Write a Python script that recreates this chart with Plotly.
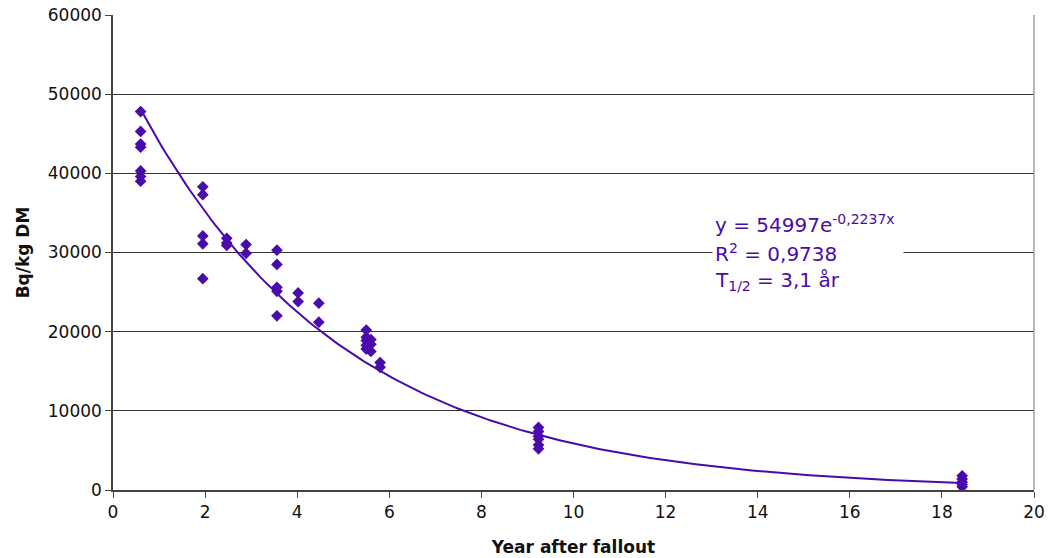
import numpy as np
import plotly.graph_objects as go

# Measured data (years after fallout, Bq/kg DM)
years = ([0.6] * 7 + [1.95] * 5 + [2.47] * 3 + [2.89] * 2 + [3.56] * 5 +
         [4.02] * 2 + [4.47] * 2 + [5.5] * 5 + [5.6] * 3 + [5.8] * 2 +
         [9.24] * 6 + [18.44] * 5)
values = [47800, 45300, 43700, 43300, 40300, 39600, 39000,
          38300, 37300, 32100, 31100, 26700,
          31800, 31200, 30900,
          31000, 29900,
          30300, 28500, 25600, 25100, 22000,
          24900, 23800,
          23600, 21200,
          20200, 19300, 18900, 18300, 17800,
          19000, 18400, 17500,
          16100, 15500,
          7900, 7400, 6800, 6400, 5700, 5200,
          1800, 1400, 1000, 700, 400]

# Exponential trendline as printed on the chart
fit_a = 54997
fit_b = -0.2237
fit_x = np.linspace(min(years), max(years), 200)
fit_y = fit_a * np.exp(fit_b * fit_x)

x_ticks = [0, 2, 4, 6, 8, 10, 12, 14, 16, 18, 20]
y_ticks = [0, 10000, 20000, 30000, 40000, 50000, 60000]
y_tick_text = ["0", "10000", "20000", "30000", "40000", "50000", "60000"]

label_lines = ["y = 54997e<sup>-0,2237x</sup>",
               "R<sup>2</sup> = 0,9738",
               "T<sub>1/2</sub> = 3,1 år"]
label_y = [33600, 30000, 26400]

purple = "#4B0AAA"
font = "DejaVu Sans"

fig = go.Figure()
fig.add_trace(go.Scatter(x=fit_x, y=fit_y, mode="lines",
                         line=dict(color=purple, width=2), hoverinfo="skip"))
fig.add_trace(go.Scatter(x=years, y=values, mode="markers",
                         marker=dict(symbol="diamond", size=9, color=purple,
                                     line=dict(width=0))))

for i, (txt, yy) in enumerate(zip(label_lines, label_y)):
    fig.add_annotation(
        x=13.0, y=yy, xref="x", yref="y", xanchor="left", yanchor="middle",
        text=txt, showarrow=False, align="left",
        bgcolor="white" if i == 1 else "rgba(0,0,0,0)",
        borderpad=2, width=186 if i == 1 else None,
        font=dict(family=font, size=20, color=purple),
    )

fig.add_shape(type="line", xref="paper", yref="paper", x0=1, x1=1, y0=0, y1=1,
              line=dict(color="#A0A0A0", width=1.5))

fig.update_layout(
    width=1050, height=558,
    margin=dict(l=113, r=16, t=15, b=68),
    paper_bgcolor="white", plot_bgcolor="white",
    showlegend=False,
    font=dict(family=font, size=17, color="#111111"),
)
fig.update_xaxes(
    range=[0, 20], tickvals=x_ticks, ticks="outside", ticklen=6,
    tickcolor="#444444", showline=True, linecolor="#444444", linewidth=1.5,
    showgrid=False, zeroline=False, automargin=False,
    title=dict(text="<b>Year after fallout</b>", font=dict(size=17), standoff=20),
)
fig.update_yaxes(
    range=[0, 60000], tickvals=y_ticks, ticktext=y_tick_text, ticks="outside",
    ticklen=6, tickcolor="#444444", showline=True, linecolor="#444444",
    linewidth=1.5, showgrid=True, gridcolor="#333333", gridwidth=1,
    zeroline=False, automargin=False,
    title=dict(text="<b>Bq/kg DM</b>", font=dict(size=17), standoff=14),
)

fig.write_html("out.html")
